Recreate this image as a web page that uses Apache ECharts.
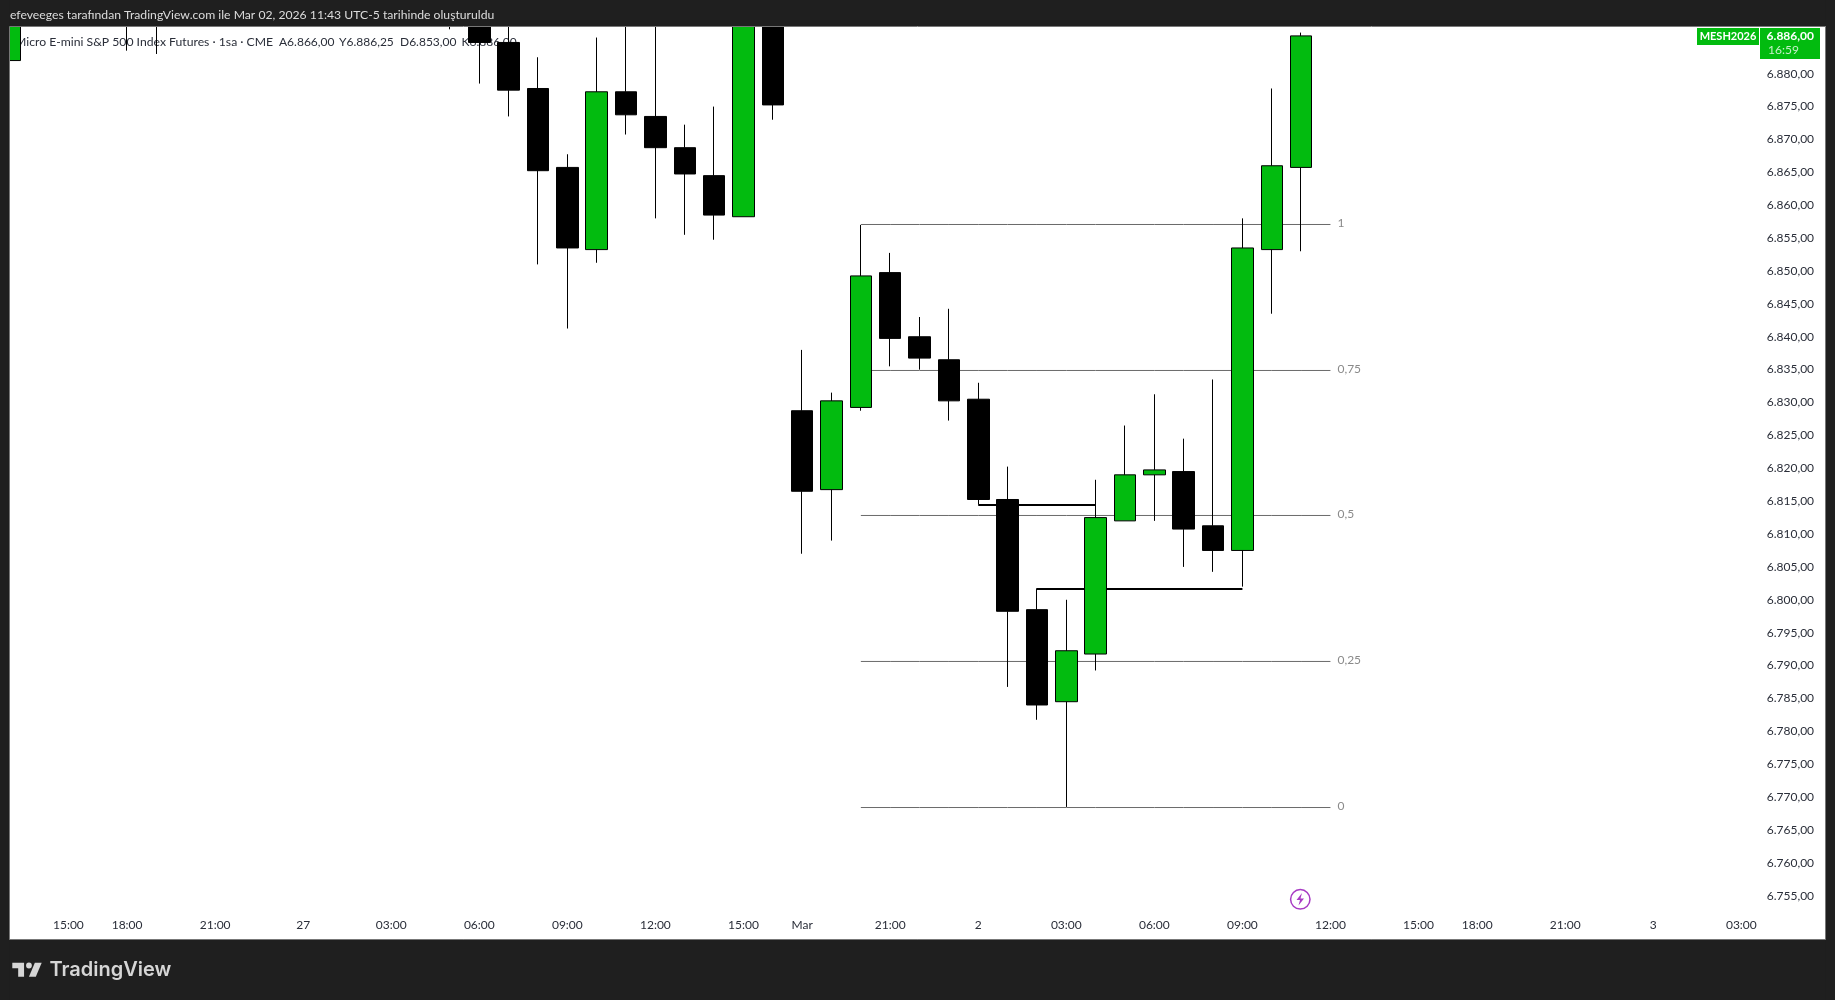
<!DOCTYPE html>
<html>
<head>
<meta charset="utf-8">
<style>html,body{margin:0;padding:0;background:#1f1f1f}#c{width:1835px;height:1000px}</style>
<script src="https://cdn.jsdelivr.net/npm/echarts@6/dist/echarts.min.js"></script>
</head>
<body>
<div id="c"></div>
<script>
// hourly bars; blank label = no tick text
const timeLabels = ['', '', '15:00', '', '18:00', '', '', '21:00', '', '', '27', '', '', '03:00', '', '', '06:00', '', '', '09:00', '', '', '12:00', '', '', '15:00', '', 'Mar', '', '', '21:00', '', '', '2', '', '', '03:00', '', '', '06:00', '', '', '09:00', '', '', '12:00', '', '', '15:00', '', '18:00', '', '', '21:00', '', '', '3', '', '', '03:00', '', ''];
// bars above the visible window are left null
const opens  = [6882, null, null, null, 6893, 6893, null, null, null, null, null, null, null, null, null, 6893, 6892, 6884.75, 6877.75, 6865.75, 6853.25, 6877.25, 6873.5, 6868.75, 6864.5, 6858.25, 6893, 6828.75, 6816.75, 6829.25, 6849.75, 6840, 6836.5, 6830.5, 6815.25, 6798.5, 6784.5, 6791.75, 6812, 6819, 6819.5, 6811.25, 6807.5, 6853.25, 6865.75];
const closes = [6893, null, null, null, 6896, 6896, null, null, null, null, null, null, null, null, null, 6895, 6884.75, 6877.5, 6865.25, 6853.5, 6877.25, 6873.75, 6868.75, 6864.75, 6858.5, 6893, 6875.25, 6816.5, 6830.25, 6849.25, 6839.75, 6836.75, 6830.25, 6815.25, 6798.25, 6784, 6792.25, 6812.5, 6819, 6819.75, 6810.75, 6807.5, 6853.5, 6866, 6885.75];
const lows   = [6874.5, null, null, null, 6883.5, 6883, null, null, null, null, null, null, null, null, null, 6886.75, 6878.5, 6873.5, 6851, 6841.25, 6851.25, 6870.75, 6858, 6855.5, 6854.75, 6858.25, 6873, 6807, 6809, 6828.75, 6835.5, 6835, 6827.25, 6814.5, 6786.75, 6781.75, 6768.5, 6789.25, 6812, 6812, 6805, 6804.25, 6802, 6843.5, 6853];
const highs  = [6896, null, null, null, 6898, 6898, null, null, null, null, null, null, null, null, null, 6898, 6896, 6890, 6882.5, 6867.75, 6885.5, 6895, 6892, 6872.25, 6875, 6895, 6895, 6838, 6831.5, 6857, 6852.75, 6843, 6844.25, 6833, 6820.25, 6801.75, 6800, 6818.25, 6826.5, 6831.25, 6824.5, 6833.5, 6858, 6877.75, 6886.25];
const priceTicks = [6880, 6875, 6870, 6865, 6860, 6855, 6850, 6845, 6840, 6835, 6830, 6825, 6820, 6815, 6810, 6805, 6800, 6795, 6790, 6785, 6780, 6775, 6770, 6765, 6760, 6755];
// Fibonacci retracement levels and their labels
const fibLabels = ['1', '0,75', '0,5', '0,25', '0'];
const fibPrices = [6857.07, 6834.87, 6812.82, 6790.62, 6768.41];
const fibStartIndex = 29, fibEndIndex = 45;
// horizontal thick levels: [first bar index, last bar index, price]
const levels = [[33, 37, 6814.41], [35, 42, 6801.64]];

const FONT = 'Lato';
const GREEN = '#02bb0f', DARK = '#1f1f1f', INK = '#2a2e39';
const candles = opens.map((o, i) => o === null ? ['-', '-', '-', '-'] : [o, closes[i], lows[i], highs[i]]);
const fmt = v => { const s = v.toFixed(2).replace('.', ','); return s.slice(0, 1) + '.' + s.slice(1); };
const span = (a, b, v) => { const d = []; for (let i = 0; i <= b; i++) d.push(i < a ? null : v); return d; };

const text = (x, y, t, o = {}) => ({
  type: 'text', x, y, z: o.z === undefined ? 0 : o.z, silent: true,
  style: { text: t, fill: o.fill || INK, font: (o.weight || 'normal') + ' ' + (o.size || 12) + 'px "' + (o.family || FONT) + '"', align: o.align || 'left', verticalAlign: 'middle' }
});
const rect = (x, y, w, h, fill, z) => ({ type: 'rect', z, silent: true, shape: { x, y, width: w, height: h }, style: { fill } });
const lx = x => 12.3 + (x - 2) * 0.98, ly = y => 962.7 + (y - 6) * 0.933;
const logoPoly = pts => ({ type: 'polygon', z: 102, silent: true, shape: { points: pts.map(p => [lx(p[0]), ly(p[1])]) }, style: { fill: '#d6d6d6' } });

const chart = echarts.init(document.getElementById('c'), null, { renderer: 'canvas' });
chart.setOption({
  animation: false,
  backgroundColor: '#ffffff',
  textStyle: { fontFamily: FONT },
  grid: { left: 9.7, top: 7.94, width: 1790.35, height: 953.52 },
  xAxis: {
    type: 'category', data: timeLabels, boundaryGap: false,
    axisLine: { show: false }, axisTick: { show: false }, splitLine: { show: false },
    axisLabel: { show: true, interval: 0, inside: true, margin: 36.5, verticalAlign: 'middle', color: INK, fontSize: 12, fontFamily: FONT, hideOverlap: false }
  },
  yAxis: {
    type: 'value', position: 'right', min: 6745, max: 6890, interval: 5, scale: true,
    axisLine: { show: false }, axisTick: { show: false }, splitLine: { show: false },
    axisLabel: { inside: true, margin: -14, color: INK, fontSize: 12, fontFamily: FONT, showMinLabel: true, showMaxLabel: true,
      formatter: v => priceTicks.includes(v) ? fmt(v) : '' }
  },
  series: [
    ...fibPrices.map((p, k) => ({
      type: 'line', z: 1, silent: true, symbol: 'none', data: span(fibStartIndex, fibEndIndex, p),
      lineStyle: { color: '#6a6a6a', width: 1 },
      endLabel: { show: true, formatter: fibLabels[k], color: '#8a8a8a', fontSize: 12, fontFamily: FONT, distance: 7, offset: [0, -1] }
    })),
    ...levels.map(l => ({
      type: 'line', z: 1, silent: true, symbol: 'none', data: span(l[0], l[1], l[2]),
      lineStyle: { color: '#000000', width: 2 }
    })),
    {
      type: 'candlestick', z: 3, silent: true, data: candles, barWidth: 22, clip: true,
      itemStyle: { color: GREEN, color0: '#000000', borderColor: '#000000', borderColor0: '#000000', borderWidth: 1 }
    }
  ],
  graphic: { elements: [
    text(15, 42.3, 'Micro E-mini S&P 500 Index Futures · 1sa · CME', { size: 12.2 }),
    text(279, 42.3, 'A6.866,00'), text(339, 42.3, 'Y6.886,25'), text(400, 42.3, 'D6.853,00'), text(461.5, 42.3, 'K6.886,00'),
    // lightning marker
    { type: 'circle', z: 20, silent: true, shape: { cx: 1300.3, cy: 899.3, r: 9.7 }, style: { fill: '#ffffff', stroke: '#a83bc4', lineWidth: 1.5 } },
    { type: 'polygon', z: 21, silent: true, shape: { points: [[1302, 893], [1296.5, 900], [1300, 900], [1298.5, 905.5], [1304, 898.5], [1300.5, 898.5]] }, style: { fill: '#a83bc4' } },
    // price tags
    rect(1697, 28, 62, 17, GREEN, 50),
    rect(1760, 28, 60, 31, GREEN, 50),
    text(1728, 36.5, 'MESH2026', { fill: '#ffffff', z: 51, align: 'center', size: 11, weight: 'bold' }),
    text(1814, 35.7, fmt(6886), { fill: '#ffffff', z: 51, align: 'right', weight: 'bold' }),
    text(1768, 50, '16:59', { fill: '#c6efc9', z: 51 }),
    // dark surround and frame
    rect(0, 0, 1835, 26, DARK, 100),
    rect(0, 939.5, 1835, 60.5, DARK, 100),
    rect(0, 0, 9.5, 1000, DARK, 100),
    rect(1825.5, 0, 9.5, 1000, DARK, 100),
    { type: 'rect', z: 101, silent: true, shape: { x: 9.5, y: 26.5, width: 1816, height: 913 }, style: { fill: 'none', stroke: '#777777', lineWidth: 1 } },
    text(10, 15, 'efeveeges tarafından TradingView.com ile Mar 02, 2026 11:43 UTC-5 tarihinde oluşturuldu', { fill: '#dcdcdc', z: 102, size: 12.2 }),
    logoPoly([[2, 6], [14, 6], [14, 21], [8, 21], [8, 12], [2, 12]]),
    logoPoly([[26, 21], [19, 21], [25, 6], [32, 6]]),
    { type: 'circle', z: 102, silent: true, shape: { cx: lx(19), cy: ly(9), r: 2.9 }, style: { fill: '#d6d6d6' } },
    text(49.5, 969.5, 'TradingView', { fill: '#d6d6d6', z: 102, size: 20, weight: '600', family: 'Inter' })
  ] }
});
</script>
</body>
</html>
